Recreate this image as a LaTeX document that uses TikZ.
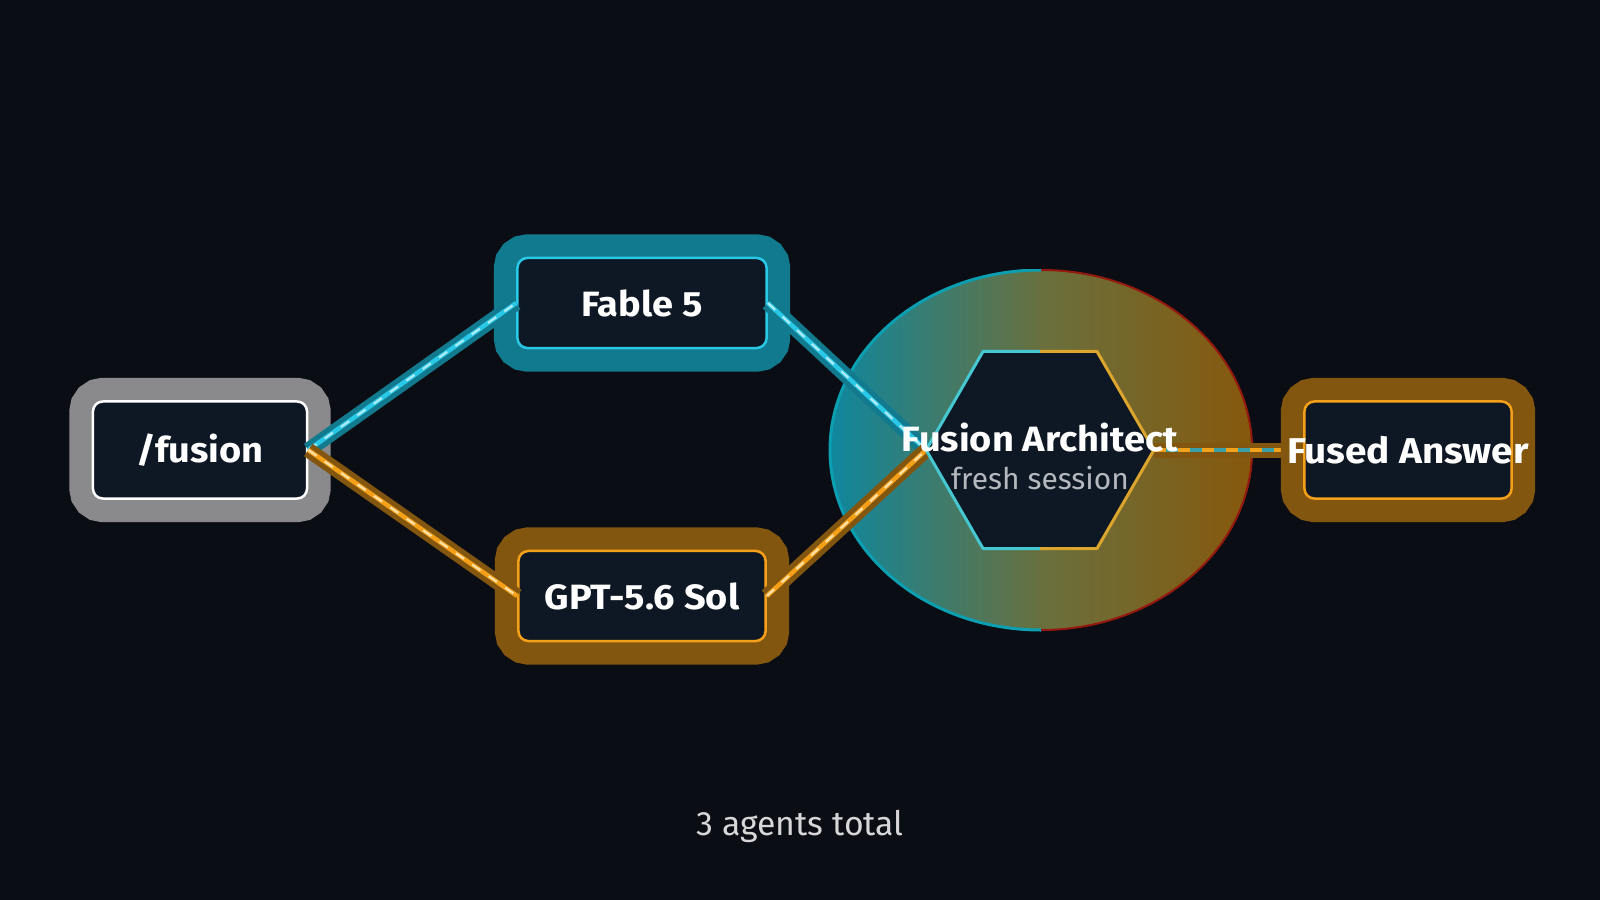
\documentclass[tikz,border=0pt]{standalone}
\usepackage{fontspec}
\setmainfont{Fira Sans}
\newfontfamily\labelfont{Fira Sans}[FakeStretch=1.08]
\usetikzlibrary{shapes.geometric}
\usepackage{xcolor}

\definecolor{bg}{RGB}{10,13,20}
\definecolor{boxfill}{RGB}{14,23,36}
\definecolor{cyanline}{RGB}{40,200,230}
\definecolor{cyanglow}{RGB}{18,122,142}
\definecolor{cyandash}{RGB}{175,235,245}
\definecolor{amberline}{RGB}{245,160,25}
\definecolor{amberglow}{RGB}{130,86,14}
\definecolor{amberdash}{RGB}{250,225,170}
\definecolor{greyglow}{RGB}{138,138,140}
\definecolor{hexcyan}{RGB}{70,200,210}
\definecolor{hexgold}{RGB}{220,165,45}
\definecolor{halocyan}{RGB}{15,135,158}
\definecolor{haloolive}{RGB}{105,112,62}
\definecolor{haloamber}{RGB}{135,88,12}
\definecolor{halored}{RGB}{150,25,15}
\definecolor{subgrey}{RGB}{180,185,190}
\definecolor{footgrey}{RGB}{215,215,215}

\begin{document}
\begin{tikzpicture}[
    x=0.01cm, y=-0.01cm,
    agent box/.style={rectangle, rounded corners=0.1cm, fill=boxfill, line width=0.025cm,
        inner sep=0pt, text=white, font=\labelfont\fontsize{10}{12}\selectfont\bfseries},
    glow/.style={preaction={draw=#1, line width=0.47cm}},
    flow cyan/.style={draw=cyanline, line width=0.045cm,
        preaction={draw=cyanglow, line width=0.15cm},
        postaction={draw=cyandash, line width=0.022cm, dash pattern=on 0.1cm off 0.1cm}},
    flow amber/.style={draw=amberline, line width=0.045cm,
        preaction={draw=amberglow, line width=0.15cm},
        postaction={draw=amberdash, line width=0.022cm, dash pattern=on 0.1cm off 0.1cm}},
    flow mixed/.style={draw=hexcyan!80!black, line width=0.035cm,
        preaction={draw=amberglow, line width=0.15cm},
        postaction={draw=amberline, line width=0.045cm, dash pattern=on 0.12cm off 0.12cm}},
    halo/.style={ellipse, inner sep=0pt, minimum width=4.23cm, minimum height=3.6cm,
        left color=halocyan, right color=haloamber, middle color=haloolive},
    hexagon/.style={regular polygon, regular polygon sides=6, minimum size=2.26cm,
        inner sep=0pt, fill=boxfill},
    title/.style={text=white, font=\labelfont\fontsize{10}{12}\selectfont\bfseries},
    subtitle/.style={text=subgrey, font=\fontsize{8.5}{10}\selectfont},
    footnote/.style={text=footgrey, font=\fontsize{9.6}{11}\selectfont}
]
    \useasboundingbox (0,0) rectangle (1600,900);
    \fill[bg] (0,0) rectangle (1600,900);

    % Halo behind the architect
    \node[halo] (halo) at (1041,450) {};
    \begin{scope}
        \clip (halo.north) rectangle (1260,640);
        \draw[halored, line width=0.02cm] (halo.center) ellipse [x radius=211, y radius=180];
    \end{scope}
    \begin{scope}
        \clip (halo.north) rectangle (820,640);
        \draw[halocyan!80!cyan, line width=0.03cm] (halo.center) ellipse [x radius=211, y radius=180];
    \end{scope}

    % Nodes
    \node[agent box, glow=greyglow, draw=white, minimum width=2.14cm, minimum height=0.97cm] (fusion) at (200,450) {/fusion};
    \node[agent box, glow=cyanglow, draw=cyanline, minimum width=2.49cm, minimum height=0.9cm] (fable) at (642,303) {Fable 5};
    \node[agent box, glow=amberglow, draw=amberline, minimum width=2.47cm, minimum height=0.9cm] (gpt) at (642,596) {GPT-5.6 Sol};
    \node[hexagon] (arch) at (1040,450) {};
    \coordinate (answerin) at (1305,450);

    % Edges
    \draw[flow cyan] (fusion.east) -- (fable.west);
    \draw[flow amber] (fusion.east) -- (gpt.west);
    \draw[flow cyan] (fable.east) -- (arch.corner 3);
    \draw[flow amber] (gpt.east) -- (arch.corner 3);
    \draw[flow mixed] (arch.corner 6) -- (answerin);

    % Answer box sits over its incoming edge
    \node[agent box, glow=amberglow, draw=amberline, minimum width=2.07cm, minimum height=0.97cm] (answer) at (1408,450) {\makebox[0pt]{\fontsize{10.2}{12}\selectfont Fused Answer}};

    % Hexagon outline, cool side and warm side
    \draw[hexcyan, line width=0.03cm, line join=round] (arch.north) -- (arch.corner 2) -- (arch.corner 3) -- (arch.corner 4) -- (arch.south);
    \draw[hexgold, line width=0.03cm, line join=round] (arch.north) -- (arch.corner 1) -- (arch.corner 6) -- (arch.corner 5) -- (arch.south);

    % Labels
    \node[title] (archname) at (1040,438) {Fusion Architect};
    \node[subtitle] (archnote) at (1040,478) {fresh session};
    \node[footnote] (total) at (800,826) {3 agents total};
\end{tikzpicture}
\end{document}
